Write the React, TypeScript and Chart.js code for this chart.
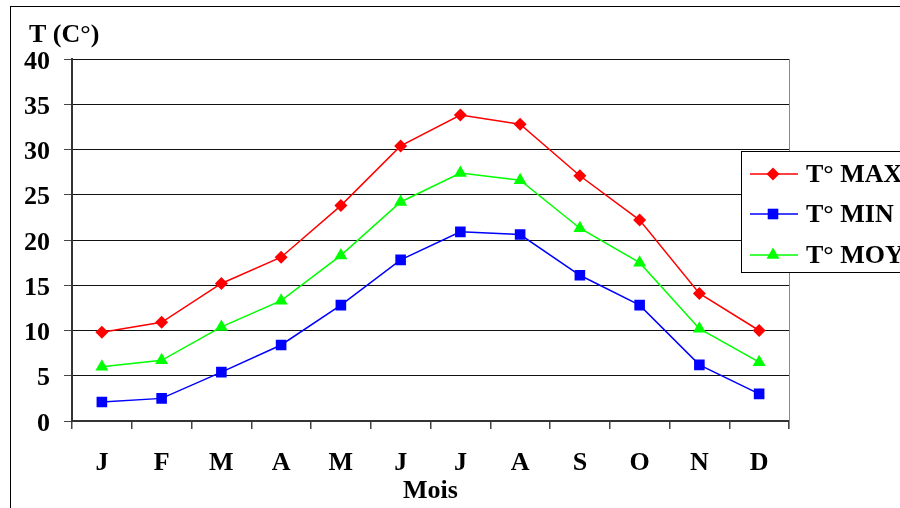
import React, { useEffect, useRef } from "react";
import { Chart, registerables } from "chart.js";

Chart.register(...registerables);

const months = ["J", "F", "M", "A", "M", "J", "J", "A", "S", "O", "N", "D"];
const tMax = [9.8, 10.9, 15.2, 18.1, 23.8, 30.4, 33.8, 32.8, 27.1, 22.2, 14.1, 10.0];
const tMin = [2.1, 2.5, 5.4, 8.4, 12.8, 17.8, 20.9, 20.6, 16.1, 12.8, 6.2, 3.0];
const tMoy = [6.0, 6.7, 10.4, 13.3, 18.3, 24.2, 27.4, 26.6, 21.3, 17.5, 10.2, 6.5];
const seriesLabels = ["T° MAX", "T° MIN", "T° MOY"];
const yTitle = "T (C°)";
const xTitle = "Mois";

const FONT = "'Liberation Serif', 'Times New Roman', serif";

function drawMarker(ctx: CanvasRenderingContext2D, style: string, x: number, y: number, r: number, color: string) {
  ctx.save();
  ctx.fillStyle = color;
  ctx.beginPath();
  if (style === "rectRot") {
    ctx.moveTo(x, y - r);
    ctx.lineTo(x + r, y);
    ctx.lineTo(x, y + r);
    ctx.lineTo(x - r, y);
  } else if (style === "rect") {
    const s = r * Math.SQRT1_2;
    ctx.rect(x - s, y - s, 2 * s, 2 * s);
  } else {
    for (let i = 0; i < 3; i++) {
      const a = -Math.PI / 2 + (i * 2 * Math.PI) / 3;
      const px = x + Math.cos(a) * r;
      const py = y + Math.sin(a) * r;
      if (i === 0) ctx.moveTo(px, py);
      else ctx.lineTo(px, py);
    }
  }
  ctx.closePath();
  ctx.fill();
  ctx.restore();
}

const decorPlugin = {
  id: "decor",
  beforeDraw(chart: any) {
    const ctx = chart.ctx as CanvasRenderingContext2D;
    ctx.save();
    ctx.fillStyle = "#ffffff";
    ctx.fillRect(0, 0, chart.width, chart.height);
    ctx.restore();
  },
  afterDraw(chart: any) {
    const ctx = chart.ctx as CanvasRenderingContext2D;
    const area = chart.chartArea;
    ctx.save();
    // outer border
    ctx.strokeStyle = "#000";
    ctx.lineWidth = 1;
    ctx.strokeRect(10.5, 6.5, 1000, 1000);
    // plot right border
    ctx.strokeStyle = "#888";
    ctx.beginPath();
    ctx.moveTo(Math.round(area.right) + 0.5, area.top);
    ctx.lineTo(Math.round(area.right) + 0.5, area.bottom + 8);
    ctx.stroke();
    // y unit title
    ctx.fillStyle = "#000";
    ctx.font = `bold 26px ${FONT}`;
    ctx.textAlign = "left";
    ctx.textBaseline = "alphabetic";
    ctx.fillText(yTitle, 29, 42);
    // legend
    const lx = 741, ly = 151, lw = 200, lh = 121;
    ctx.fillStyle = "#fff";
    ctx.fillRect(lx, ly, lw, lh);
    ctx.strokeStyle = "#000";
    ctx.lineWidth = 1;
    ctx.strokeRect(lx + 0.5, ly + 0.5, lw, lh);
    const rows = [174, 214, 255];
    chart.data.datasets.forEach((ds: any, i: number) => {
      const y = rows[i];
      ctx.strokeStyle = ds.borderColor;
      ctx.lineWidth = 1.5;
      ctx.beginPath();
      ctx.moveTo(750, y);
      ctx.lineTo(798, y);
      ctx.stroke();
      drawMarker(ctx, ds.pointStyle, 773, y, ds.pointRadius, ds.backgroundColor);
      ctx.fillStyle = "#000";
      ctx.font = `bold 26px ${FONT}`;
      ctx.textAlign = "left";
      ctx.textBaseline = "middle";
      ctx.fillText(ds.label, 806, y + 1);
    });
    ctx.restore();
  },
};

export default function App() {
  const canvasRef = useRef<HTMLCanvasElement | null>(null);

  useEffect(() => {
    if (!canvasRef.current) return;
    const chart = new Chart(canvasRef.current, {
      type: "line",
      data: {
        labels: months,
        datasets: [
          {
            label: seriesLabels[0],
            data: tMax,
            borderColor: "#ff0000",
            backgroundColor: "#ff0000",
            pointStyle: "rectRot",
            pointRadius: 6.5,
            pointBorderWidth: 0,
            borderWidth: 1.5,
            tension: 0,
          },
          {
            label: seriesLabels[1],
            data: tMin,
            borderColor: "#0000ff",
            backgroundColor: "#0000ff",
            pointStyle: "rect",
            pointRadius: 7.5,
            pointBorderWidth: 0,
            borderWidth: 1.5,
            tension: 0,
          },
          {
            label: seriesLabels[2],
            data: tMoy,
            borderColor: "#00ff00",
            backgroundColor: "#00ff00",
            pointStyle: "triangle",
            pointRadius: 7.5,
            pointBorderWidth: 0,
            borderWidth: 1.5,
            tension: 0,
          },
        ],
      },
      options: {
        responsive: false,
        animation: false,
        layout: { padding: { left: 0, right: 111, top: 59, bottom: 0 } },
        plugins: {
          legend: { display: false },
          title: { display: false },
          tooltip: { enabled: false },
        },
        scales: {
          x: {
            offset: true,
            grid: {
              offset: true,
              drawOnChartArea: false,
              drawTicks: true,
              tickLength: 8,
              color: "#444",
              tickColor: "#444",
              lineWidth: 1.5,
            },
            border: { display: true, color: "#333", width: 2 },
            ticks: {
              color: "#000",
              font: { family: FONT, size: 26, weight: "bold" },
              padding: 19,
              maxRotation: 0,
              autoSkip: false,
            },
            title: {
              display: true,
              text: xTitle,
              color: "#000",
              font: { family: FONT, size: 26, weight: "bold" },
              padding: { top: 0, bottom: 1 },
            },
            afterFit(scale: any) {
              scale.height = 87;
            },
          },
          y: {
            min: 0,
            max: 40,
            grid: {
              color: "#111",
              tickColor: "#444",
              lineWidth: 1,
              drawTicks: true,
              tickLength: 8,
            },
            border: { display: true, color: "#333", width: 2 },
            ticks: {
              stepSize: 5,
              color: "#000",
              font: { family: FONT, size: 26, weight: "bold" },
              padding: 14,
              labelOffset: 3,
            },
            afterFit(scale: any) {
              scale.width = 72;
            },
          },
        },
      },
      plugins: [decorPlugin],
    });
    return () => chart.destroy();
  }, []);

  return (
    <div style={{ position: "absolute", left: 0, top: 0, width: 900, height: 508, background: "#fff" }}>
      <canvas ref={canvasRef} width={900} height={508} style={{ width: 900, height: 508, display: "block" }} />
    </div>
  );
}
